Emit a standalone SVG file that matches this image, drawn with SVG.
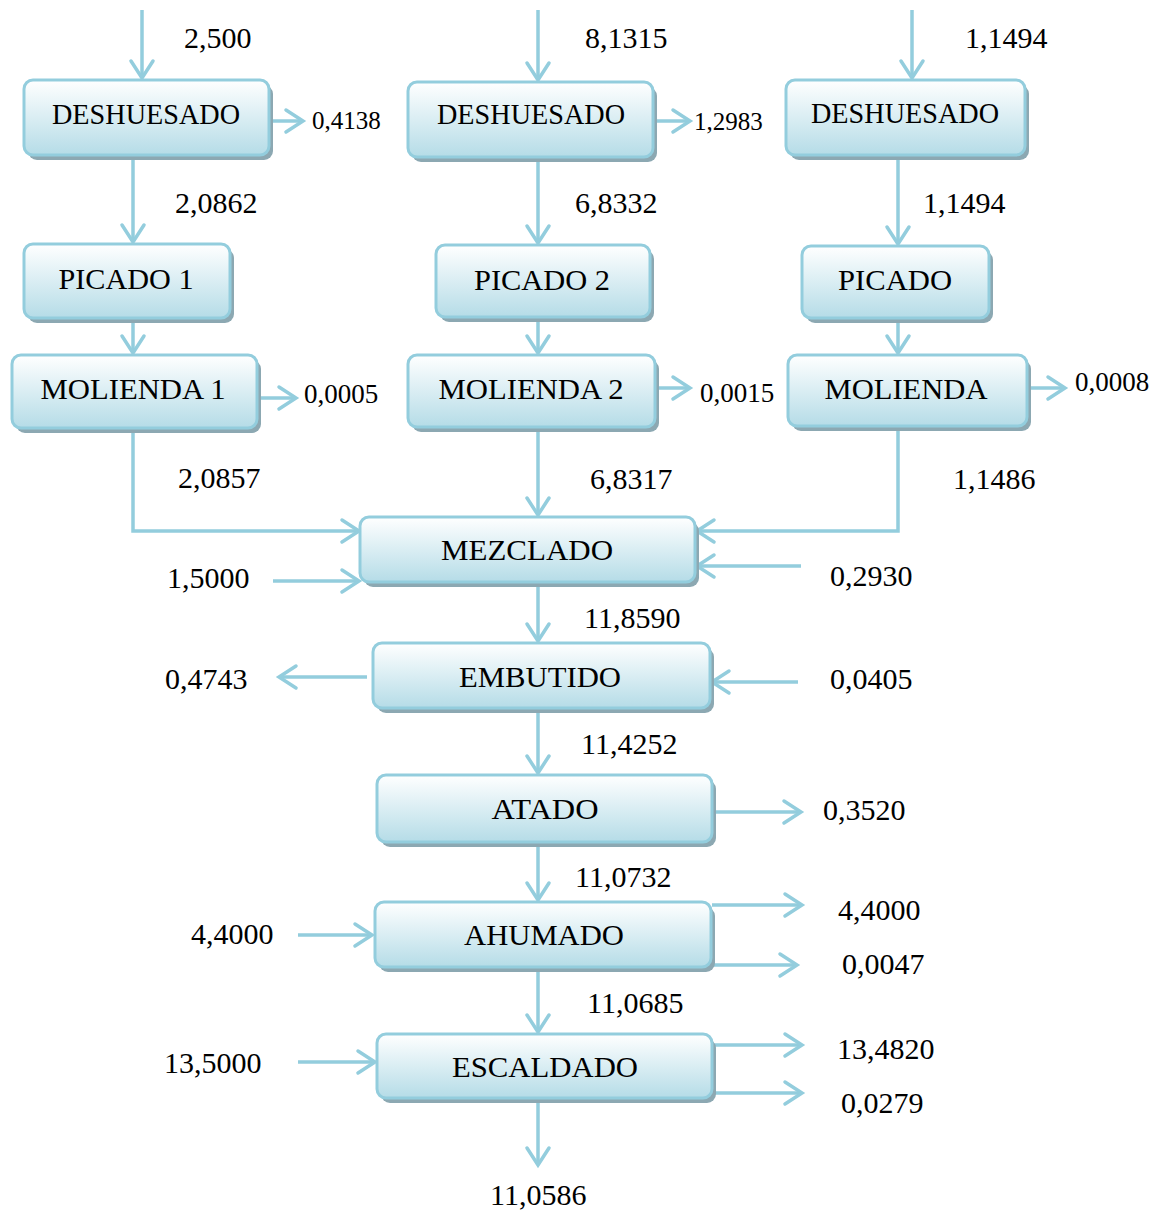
<svg xmlns="http://www.w3.org/2000/svg" width="1165" height="1211" viewBox="0 0 1165 1211">
<defs>
<linearGradient id="g" x1="0" y1="0" x2="0" y2="1">
<stop offset="0" stop-color="#ffffff"/>
<stop offset="1" stop-color="#b5dce7"/>
</linearGradient>
<marker id="a" markerUnits="userSpaceOnUse" markerWidth="40" markerHeight="40" viewBox="-20 -20 40 40" refX="0" refY="0" orient="auto">
<path d="M-17,-11 L0,0 L-17,11" fill="none" stroke="#93cddd" stroke-width="3.5" stroke-linecap="round" stroke-linejoin="miter"/>
</marker>
</defs>
<style>
.sh{fill:#8ca8b2}
.bx{fill:url(#g);stroke:#93cddd;stroke-width:3}
.lb{font-family:"Liberation Serif","Times New Roman",serif;font-size:30px;fill:#000;text-anchor:middle}
.n{font-family:"Liberation Serif","Times New Roman",serif;font-size:30px;fill:#000}
.s{font-size:25px}
.m{font-size:27px}
.c{fill:none;stroke:#93cddd;stroke-width:3.5;marker-end:url(#a)}
</style>
<rect width="1165" height="1211" fill="#ffffff"/>

<g id="connectors">
<path class="c" d="M142,10 V78"/>
<path class="c" d="M538,10 V80"/>
<path class="c" d="M912,10 V78"/>
<path class="c" d="M270,121 H303"/>
<path class="c" d="M654,121 H690"/>
<path class="c" d="M133,156 V242"/>
<path class="c" d="M538,158 V243"/>
<path class="c" d="M898,156 V244"/>
<path class="c" d="M133,319 V353"/>
<path class="c" d="M538,318 V353"/>
<path class="c" d="M898,319 V353"/>
<path class="c" d="M258,398 H296"/>
<path class="c" d="M656,388 H690"/>
<path class="c" d="M1028,388 H1065"/>
<path class="c" d="M133,429 V531 H359"/>
<path class="c" d="M538,428 V515"/>
<path class="c" d="M898,427 V531 H697"/>
<path class="c" d="M273,581 H359"/>
<path class="c" d="M801,566 H697"/>
<path class="c" d="M538,583 V641"/>
<path class="c" d="M367,677 H279"/>
<path class="c" d="M798,682 H712"/>
<path class="c" d="M538,709 V773"/>
<path class="c" d="M713,812 H801"/>
<path class="c" d="M538,843 V900"/>
<path class="c" d="M712,905 H802"/>
<path class="c" d="M712,965 H797"/>
<path class="c" d="M298,935 H372"/>
<path class="c" d="M538,968 V1032"/>
<path class="c" d="M713,1045 H802"/>
<path class="c" d="M713,1093 H802"/>
<path class="c" d="M298,1062 H375"/>
<path class="c" d="M538,1099 V1165"/>
</g>

<g id="deshuesado1">
<rect class="sh" x="28" y="85" width="245" height="75" rx="9"/>
<rect class="bx" x="24" y="80" width="245" height="75" rx="9"/>
<text class="lb" x="146" y="124" textLength="188" lengthAdjust="spacingAndGlyphs">DESHUESADO</text>
</g>
<g id="deshuesado2">
<rect class="sh" x="412" y="87" width="245" height="75" rx="9"/>
<rect class="bx" x="408" y="82" width="245" height="75" rx="9"/>
<text class="lb" x="531" y="124" textLength="188" lengthAdjust="spacingAndGlyphs">DESHUESADO</text>
</g>
<g id="deshuesado3">
<rect class="sh" x="790" y="85" width="239" height="75" rx="9"/>
<rect class="bx" x="786" y="80" width="239" height="75" rx="9"/>
<text class="lb" x="905" y="123" textLength="188" lengthAdjust="spacingAndGlyphs">DESHUESADO</text>
</g>

<g id="picado1">
<rect class="sh" x="28" y="249" width="206" height="74" rx="9"/>
<rect class="bx" x="24" y="244" width="206" height="74" rx="9"/>
<text class="lb" x="126" y="289" textLength="135" lengthAdjust="spacingAndGlyphs">PICADO 1</text>
</g>
<g id="picado2">
<rect class="sh" x="440" y="250" width="214" height="72" rx="9"/>
<rect class="bx" x="436" y="245" width="214" height="72" rx="9"/>
<text class="lb" x="542" y="290" textLength="136" lengthAdjust="spacingAndGlyphs">PICADO 2</text>
</g>
<g id="picado3">
<rect class="sh" x="806" y="251" width="187" height="72" rx="9"/>
<rect class="bx" x="802" y="246" width="187" height="72" rx="9"/>
<text class="lb" x="895" y="290" textLength="114" lengthAdjust="spacingAndGlyphs">PICADO</text>
</g>

<g id="molienda1">
<rect class="sh" x="16" y="360" width="245" height="73" rx="9"/>
<rect class="bx" x="12" y="355" width="245" height="73" rx="9"/>
<text class="lb" x="133" y="399" textLength="185" lengthAdjust="spacingAndGlyphs">MOLIENDA 1</text>
</g>
<g id="molienda2">
<rect class="sh" x="412" y="360" width="247" height="72" rx="9"/>
<rect class="bx" x="408" y="355" width="247" height="72" rx="9"/>
<text class="lb" x="531" y="399" textLength="185" lengthAdjust="spacingAndGlyphs">MOLIENDA 2</text>
</g>
<g id="molienda3">
<rect class="sh" x="792" y="360" width="239" height="71" rx="9"/>
<rect class="bx" x="788" y="355" width="239" height="71" rx="9"/>
<text class="lb" x="906" y="399" textLength="163" lengthAdjust="spacingAndGlyphs">MOLIENDA</text>
</g>

<g id="mezclado">
<rect class="sh" x="364" y="522" width="335" height="65" rx="9"/>
<rect class="bx" x="360" y="517" width="335" height="65" rx="9"/>
<text class="lb" x="527" y="560" textLength="172" lengthAdjust="spacingAndGlyphs">MEZCLADO</text>
</g>
<g id="embutido">
<rect class="sh" x="377" y="648" width="337" height="65" rx="9"/>
<rect class="bx" x="373" y="643" width="337" height="65" rx="9"/>
<text class="lb" x="540" y="687" textLength="162" lengthAdjust="spacingAndGlyphs">EMBUTIDO</text>
</g>
<g id="atado">
<rect class="sh" x="381" y="780" width="335" height="67" rx="9"/>
<rect class="bx" x="377" y="775" width="335" height="67" rx="9"/>
<text class="lb" x="545" y="819" textLength="107" lengthAdjust="spacingAndGlyphs">ATADO</text>
</g>
<g id="ahumado">
<rect class="sh" x="379" y="907" width="336" height="65" rx="9"/>
<rect class="bx" x="375" y="902" width="336" height="65" rx="9"/>
<text class="lb" x="544" y="945" textLength="160" lengthAdjust="spacingAndGlyphs">AHUMADO</text>
</g>
<g id="escaldado">
<rect class="sh" x="381" y="1039" width="335" height="64" rx="9"/>
<rect class="bx" x="377" y="1034" width="335" height="64" rx="9"/>
<text class="lb" x="545" y="1077" textLength="186" lengthAdjust="spacingAndGlyphs">ESCALDADO</text>
</g>

<g id="labels">
<text class="n" x="184" y="48">2,500</text>
<text class="n" x="585" y="48">8,1315</text>
<text class="n" x="965" y="48">1,1494</text>
<text class="n s" x="312" y="129">0,4138</text>
<text class="n s" x="694" y="130">1,2983</text>
<text class="n" x="175" y="213">2,0862</text>
<text class="n" x="575" y="213">6,8332</text>
<text class="n" x="923" y="213">1,1494</text>
<text class="n m" x="304" y="403">0,0005</text>
<text class="n m" x="700" y="402">0,0015</text>
<text class="n m" x="1075" y="391">0,0008</text>
<text class="n" x="178" y="488">2,0857</text>
<text class="n" x="590" y="489">6,8317</text>
<text class="n" x="953" y="489">1,1486</text>
<text class="n" x="167" y="588">1,5000</text>
<text class="n" x="830" y="586">0,2930</text>
<text class="n" x="584" y="628">11,8590</text>
<text class="n" x="165" y="689">0,4743</text>
<text class="n" x="830" y="689">0,0405</text>
<text class="n" x="581" y="754">11,4252</text>
<text class="n" x="823" y="820">0,3520</text>
<text class="n" x="575" y="887">11,0732</text>
<text class="n" x="838" y="920">4,4000</text>
<text class="n" x="191" y="944">4,4000</text>
<text class="n" x="842" y="974">0,0047</text>
<text class="n" x="587" y="1013">11,0685</text>
<text class="n" x="837" y="1059">13,4820</text>
<text class="n" x="164" y="1073">13,5000</text>
<text class="n" x="841" y="1113">0,0279</text>
<text class="n" x="490" y="1205">11,0586</text>
</g>
</svg>
